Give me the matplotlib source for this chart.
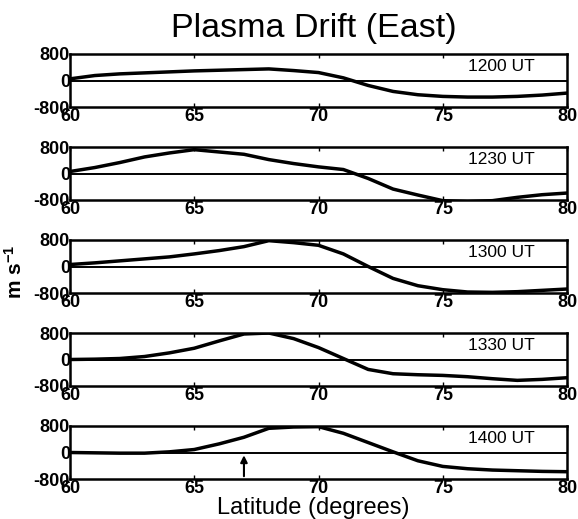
import matplotlib
matplotlib.use('Agg')
from matplotlib import pyplot as plt

plt.rcParams['font.family'] = ['Liberation Sans', 'DejaVu Sans']
plt.rcParams['mathtext.default'] = 'regular'

lat = [60, 61, 62, 63, 64, 65, 66, 67, 68, 69, 70, 71, 72, 73, 74, 75, 76, 77, 78, 79, 80]
drift_1200 = [50, 150, 200, 230, 260, 290, 310, 330, 350, 300, 240, 80, -150, -330, -430, -480, -500, -500, -480, -440, -380]
drift_1230 = [60, 180, 330, 500, 620, 720, 650, 580, 420, 300, 200, 120, -150, -470, -650, -820, -850, -820, -720, -640, -590]
drift_1300 = [60, 110, 170, 230, 290, 380, 480, 600, 780, 720, 640, 380, 0, -360, -580, -700, -770, -780, -760, -720, -680]
drift_1330 = [0, 10, 30, 90, 200, 340, 560, 770, 800, 630, 360, 30, -300, -430, -460, -480, -520, -580, -630, -600, -550]
drift_1400 = [0, -10, -20, -20, 20, 90, 260, 460, 730, 770, 780, 580, 300, 20, -250, -420, -490, -530, -550, -570, -580]

panels = [('1200 UT', drift_1200), ('1230 UT', drift_1230), ('1300 UT', drift_1300),
          ('1330 UT', drift_1330), ('1400 UT', drift_1400)]
arrow_lat = 67.0

fig = plt.figure(figsize=(5.78, 5.19), dpi=100)
W, H = 578.0, 519.0
left, right = 70, 567
tops = [54, 147, 240, 333, 426]
ph = 53

axes = []
for i, (label, vals) in enumerate(panels):
    top = tops[i]
    ax = fig.add_axes([left / W, 1 - (top + ph) / H, (right - left) / W, ph / H])
    ax.plot(lat, vals, color='black', lw=2.5)
    ax.axhline(0, color='black', lw=1.4)
    ax.set_xlim(60, 80)
    ax.set_ylim(-800, 800)
    ax.set_xticks([60, 65, 70, 75, 80])
    ax.set_yticks([-800, 0, 800])
    ax.set_yticklabels(['-800', '0', '800'])
    ax.tick_params(direction='in', top=True, length=3, width=1, labelsize=13, pad=1)
    ax.tick_params(axis='y', length=0, pad=0)
    for t in ax.get_xticklabels() + ax.get_yticklabels():
        t.set_fontweight('bold')
    for s in ax.spines.values():
        s.set_linewidth(1.8)
    ax.text(0.936, 0.9, label, transform=ax.transAxes, ha='right', va='top', fontsize=12.5)
    axes.append(ax)

axes[-1].annotate('', xy=(arrow_lat, 0), xytext=(arrow_lat, -800),
                  arrowprops=dict(arrowstyle='-|>', color='black', lw=1.5, mutation_scale=10))

fig.text(0.543, 1 - 29 / H, 'Plasma Drift (East)', ha='center', va='center', fontsize=24.5)
fig.text(0.542, 1 - 508 / H, 'Latitude (degrees)', ha='center', va='center', fontsize=17)
fig.text(15 / W, 1 - 272 / H, 'm s$^{-1}$', ha='center', va='center', rotation=90,
         fontsize=15, fontweight='bold')

fig.savefig('out.png', dpi=100)
